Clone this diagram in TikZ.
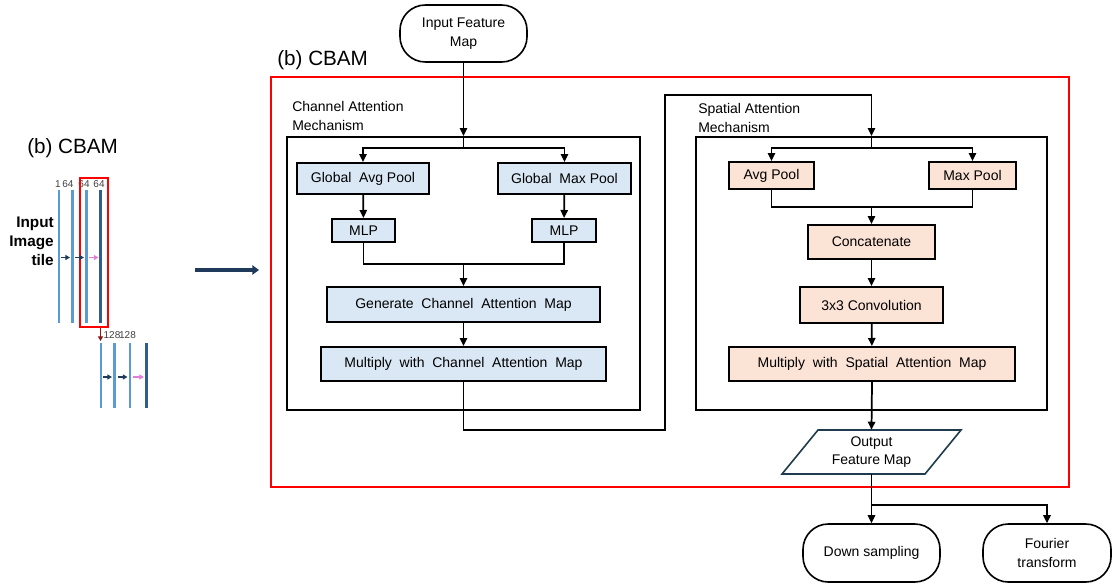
\documentclass[tikz,border=0pt]{standalone}
\usepackage{fontspec}
\setmainfont{Liberation Sans}
\usetikzlibrary{arrows.meta,shapes.geometric}
\definecolor{bluefill}{HTML}{DAE8F5}
\definecolor{orfill}{HTML}{FBE3D6}
\definecolor{navy}{HTML}{1F3A5A}
\definecolor{lblue}{HTML}{5B9BD5}
\definecolor{dblue}{HTML}{2E5E8E}
\definecolor{pinkish}{HTML}{E07FD8}
\definecolor{brownred}{HTML}{8B1A1A}
\definecolor{tealdark}{HTML}{1F3B4D}
\newcommand\mybox[7]{\node[#1, minimum width={(#4-#2)*0.75pt}, minimum height={(#5-#3)*0.75pt}] (#6) at ({(#2+#4)/2},{(#3+#5)/2}) {#7};}
\begin{document}
\begin{tikzpicture}[x=0.75pt,y=-0.75pt,
  txt/.style={font=\fontsize{10.5}{14}\selectfont},
  bbox/.style={draw=black, line width=1.5pt, fill=bluefill, inner sep=0pt, txt},
  obox/.style={draw=black, line width=1.5pt, fill=orfill, inner sep=0pt, txt},
  frm/.style={draw=black, line width=1.5pt, inner sep=0pt},
  pill/.style={draw=black, line width=1.2pt, rounded corners=19pt, inner sep=0pt, align=center, txt},
  arr/.style={-{Triangle[length=6pt,width=5.5pt]}, line width=1.3pt},
  ln/.style={line width=1.3pt},
  sarr/.style={-{Triangle[length=3.5pt,width=3.8pt]}, line width=1.4pt},
  lab/.style={font=\fontsize{7.5}{8}\selectfont, text=black!75, inner sep=0pt}
]
\useasboundingbox (0,0) rectangle (1112,585);

% ---------- left panel ----------
\node[font=\fontsize{15.5}{18}\selectfont, anchor=west, inner sep=0pt] (ltitle) at (27,148) {(b)\ CBAM};
\node[font=\bfseries\fontsize{11.5}{14.2}\selectfont, align=right, anchor=east, inner sep=0pt] (itile) at (54,241) {Input\\Image\\tile};
\draw[lblue, line width=0.8pt] (59,190) -- (59,323);
\draw[lblue, line width=1.9pt] (72.3,190) -- (72.3,323);
\draw[lblue, line width=1.9pt] (86.3,190) -- (86.3,323);
\draw[dblue, line width=2.2pt] (100.7,190) -- (100.7,323);
\node[lab] (l1) at (58,184) {1};
\node[lab] (l2) at (68,184) {64};
\node[lab] (l3) at (84,184) {64};
\node[lab] (l4) at (99,184) {64};
\draw[red, line width=1.5pt] (79.5,177.5) rectangle (108,327);
\draw[sarr, navy] (61,257.5) -- (70,257.5);
\draw[sarr, navy] (75,257.5) -- (84,257.5);
\draw[sarr, pinkish] (89,257.5) -- (98.5,257.5);
\draw[sarr, brownred] (100.5,327.5) -- (100.5,341);
\node[lab] (l5) at (112,335.5) {128};
\node[lab] (l6) at (127.5,335.5) {128};
\draw[lblue, line width=1.6pt] (100.7,343) -- (100.7,408);
\draw[lblue, line width=1.9pt] (114.7,343) -- (114.7,408);
\draw[lblue, line width=1.9pt] (130,343) -- (130,408);
\draw[dblue, line width=2.2pt] (146.7,343) -- (146.7,408);
\draw[sarr, navy] (103,377) -- (112,377);
\draw[sarr, navy] (118,377) -- (127.5,377);
\draw[sarr, pinkish] (133,377) -- (144,377);

\draw[-{Triangle[length=5pt,width=7pt]}, navy, line width=3pt] (195,270) -- (259,270);

% ---------- CBAM frame ----------
\draw[red, line width=1.2pt] (271,77) rectangle (1069,487);
\node[font=\fontsize{15.5}{18}\selectfont, anchor=west, inner sep=0pt] (title) at (277,60) {(b)\ CBAM};

\mybox{pill}{400}{5}{527}{62}{inp}{Input Feature\\Map}

% channel attention
\mybox{frm}{287}{137}{640}{410}{cam}{}
\node[txt, align=left, anchor=north west, inner sep=0pt] (camlab) at (292,101) {Channel Attention\\Mechanism};
\mybox{bbox}{297}{163}{429}{194}{gap}{Global\ \ Avg Pool}
\mybox{bbox}{498}{163}{631}{194}{gmp}{Global\ \ Max Pool}
\mybox{bbox}{332}{219}{395}{242}{mlpa}{MLP}
\mybox{bbox}{532}{219}{596}{242}{mlpb}{MLP}
\mybox{bbox}{327}{287}{600}{322}{gen}{Generate\ \ Channel\ \ Attention\ \ Map}
\mybox{bbox}{321}{347}{606}{381}{mul}{Multiply\ \ with\ \ Channel\ \ Attention\ \ Map}

% spatial attention
\mybox{frm}{696}{137}{1047}{410}{sam}{}
\node[txt, align=left, anchor=north west, inner sep=0pt] (samlab) at (698,103) {Spatial Attention\\Mechanism};
\mybox{obox}{729}{162}{814}{189}{avg}{Avg Pool}
\mybox{obox}{929}{162}{1016}{189}{maxp}{Max Pool}
\mybox{obox}{808}{225}{935}{259}{cat}{Concatenate}
\mybox{obox}{800}{287}{943}{323}{conv}{3x3 Convolution}
\mybox{obox}{729}{347}{1015}{381}{msp}{Multiply\ \ with\ \ Spatial\ \ Attention\ \ Map}

% output
\draw[tealdark, line width=1.2pt] (818,430) -- (961,430) -- (925,474) -- (782,474) -- cycle;
\node[txt, align=center, inner sep=0pt, minimum height={44*0.75pt}] (out) at (871.5,452) {Output\\Feature Map};
\mybox{pill}{803}{524}{940}{582}{down}{Down sampling}
\mybox{pill}{983}{524}{1111}{582}{four}{Fourier\\transform}

% ---------- connectors ----------
\coordinate (cj) at (463.5,148);
\coordinate (cjoin) at (463.5,264);
\coordinate (r1) at (665,430);
\coordinate (r2) at (665,95);
\coordinate (sj) at (871.5,148);
\coordinate (sjoin) at (871.5,207);
\coordinate (oj) at (871.5,505);

\draw[arr] (inp.south) -- (cam.north);
\draw[ln] (cam.north) -- (cj);
\draw[arr] (cj) -| (gap.north);
\draw[arr] (cj) -| (gmp.north);
\draw[arr] (gap) -- (mlpa);
\draw[arr] (gmp) -- (mlpb);
\draw[ln] (mlpa.south) |- (cjoin) -| (mlpb.south);
\draw[arr] (cjoin) -- (gen.north);
\draw[arr] (gen) -- (mul);
\draw[arr] (mul.south) |- (r1) -- (r2) -| (sam.north);
\draw[ln] (sam.north) -- (sj);
\draw[arr] (sj) -| (avg.north);
\draw[arr] (sj) -| (maxp.north);
\draw[ln] (avg.south) |- (sjoin) -| (maxp.south);
\draw[arr] (sjoin) -- (cat.north);
\draw[arr] (cat) -- (conv);
\draw[arr] (conv) -- (msp);
\draw[arr] (msp.south) -- (out.north);
\draw[ln] (out.south) -- (oj);
\draw[arr] (oj) -| (down.north);
\draw[arr] (oj) -| (four.north);
\end{tikzpicture}
\end{document}
